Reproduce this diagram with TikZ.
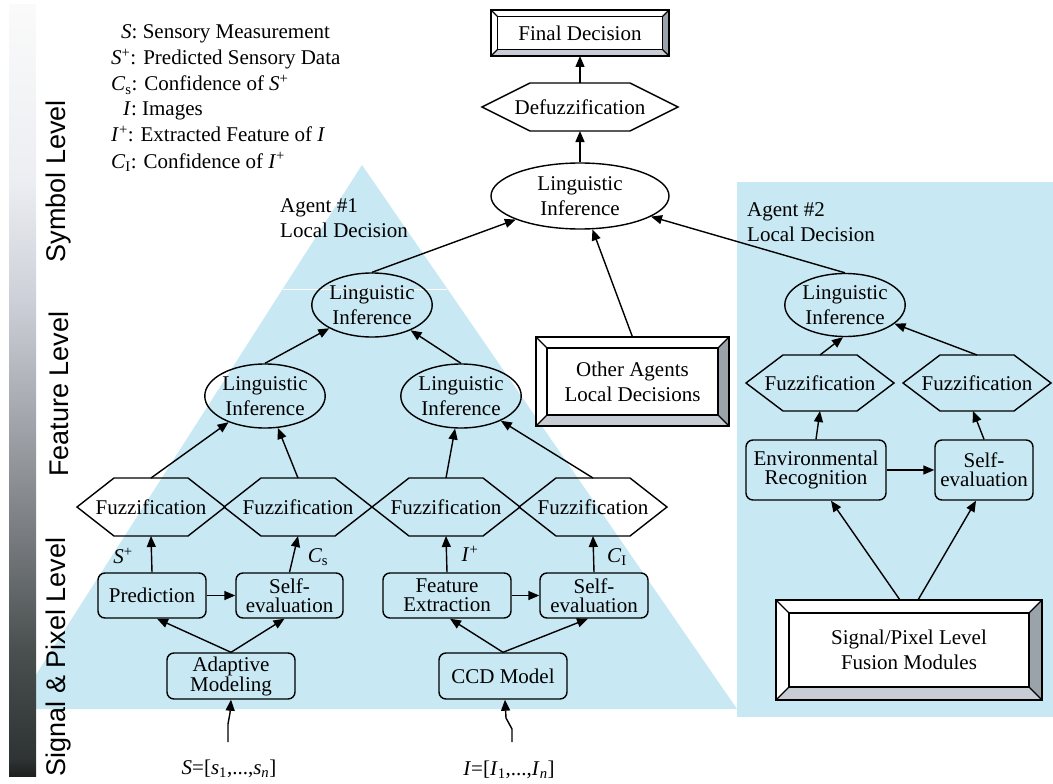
\documentclass[tikz,border=0pt]{standalone}
\usepackage{fontspec}
\setmainfont{Liberation Serif}
\setsansfont{Liberation Sans}
\usetikzlibrary{arrows.meta,calc,shapes.geometric}

\definecolor{agentblue}{RGB}{200,232,243}
\definecolor{bevelright}{RGB}{154,162,170}
\definecolor{bevelbottom}{RGB}{200,204,212}
\definecolor{barA}{RGB}{30,32,32}
\definecolor{barB}{RGB}{40,44,44}
\definecolor{barC}{RGB}{46,51,51}
\definecolor{barD}{RGB}{74,80,80}
\definecolor{barE}{RGB}{122,126,130}
\definecolor{barF}{RGB}{162,166,172}
\definecolor{barG}{RGB}{205,208,216}
\definecolor{barH}{RGB}{236,238,242}
\definecolor{barI}{RGB}{250,250,250}

\pgfdeclareverticalshading{levelbar}{100bp}{color(0bp)=(barA); color(25bp)=(barA);
  color(25.7bp)=(barB); color(26.1bp)=(barC); color(33.2bp)=(barD); color(41bp)=(barE);
  color(48.1bp)=(barF); color(55.9bp)=(barG); color(63.7bp)=(barH); color(75bp)=(barI);
  color(100bp)=(barI)}

% hexagon outline round a plain node, #2 = depth of the points
\newcommand{\hexoutline}[2]{%
  \draw[line width=1.4pt] (#1.west) -- ($(#1.north west)+(#2,0)$) -- ($(#1.north east)+(-#2,0)$)
    -- (#1.east) -- ($(#1.south east)+(-#2,0)$) -- ($(#1.south west)+(#2,0)$) -- cycle;}
% raised frame round a bevel box, #2 = frame width
\newcommand{\bevelframe}[2]{%
  \fill[bevelright] (#1.north east) -- (#1.south east) -- ($(#1.south east)+(-#2,-#2)$) -- ($(#1.north east)+(-#2,#2)$) -- cycle;
  \fill[bevelbottom] (#1.south west) -- (#1.south east) -- ($(#1.south east)+(-#2,-#2)$) -- ($(#1.south west)+(#2,-#2)$) -- cycle;
  \draw[line width=1.4pt] ($(#1.north west)+(#2,#2)$) rectangle ($(#1.south east)+(-#2,-#2)$);
  \draw[line width=1.2pt] (#1.north west) -- ++(#2,#2) (#1.north east) -- ++(-#2,#2)
    (#1.south west) -- ++(#2,-#2) (#1.south east) -- ++(-#2,-#2);
  \draw[line width=1.4pt] (#1.north west) rectangle (#1.south east);}

\tikzset{
  txt/.style={font=\fontsize{21}{25}\selectfont, inner sep=0pt, align=center},
  procbox/.style={draw, line width=1.4pt, rounded corners=7pt, inner sep=0pt, align=center,
    font=\fontsize{21}{19}\selectfont},
  linf/.style={ellipse, draw, line width=1.4pt, inner sep=0pt, align=center,
    font=\fontsize{21}{25}\selectfont},
  fuzz/.style={inner sep=0pt, outer sep=0pt, minimum width=148pt, minimum height=58pt,
    font=\fontsize{21}{25}\selectfont},
  bevelbox/.style={draw, fill=white, line width=1.4pt, inner sep=0pt, outer sep=0pt, align=center,
    font=\fontsize{21}{25}\selectfont},
  flow/.style={line width=1.4pt, -{Triangle[length=11pt,width=9pt]}},
  levellabel/.style={font=\sffamily\fontsize{27}{27}\selectfont, rotate=90, inner sep=0pt},
  legend/.style={anchor=base west, inner sep=0pt, font=\fontsize{21}{24}\selectfont},
  sig/.style={inner sep=0pt, font=\fontsize{21}{24}\selectfont},
}

\begin{document}
\begin{tikzpicture}[x=1pt,y=-1pt]
\useasboundingbox (0,0) rectangle (1053,784);

% agent areas and level bar
\fill[agentblue] (362,165) -- (737,709) -- (14,709) -- cycle;
\draw[white, line width=0.8pt] (283,289) -- (447,289);
\fill[agentblue] (737,182) rectangle (1053,717);
\shade[shading=levelbar] (9,5) rectangle (36,776);

\node[levellabel] (lvSym) at (59,181) {Symbol Level};
\node[levellabel] (lvFeat) at (59,394) {Feature Level};
\node[levellabel] (lvSig) at (59,657) {Signal \& Pixel Level};

% legend
\node[legend] (lgS) at (121,39) {\textit{S}: Sensory Measurement};
\node[legend] (lgSp) at (111,65) {\textit{S}\textsuperscript{+}: Predicted Sensory Data};
\node[legend] (lgCs) at (111,91) {\textit{C}\textsubscript{s}: Confidence of \textit{S}\textsuperscript{+}};
\node[legend] (lgI) at (123,116) {\textit{I}: Images};
\node[legend] (lgIp) at (111,142) {\textit{I}\textsuperscript{+}: Extracted Feature of \textit{I}};
\node[legend] (lgCi) at (111,168) {\textit{C}\textsubscript{I}: Confidence of \textit{I}\textsuperscript{+}};

% symbol level
\node[bevelbox, minimum width=178pt, minimum height=46pt] (final) at (580,33) {Final Decision};
\node[fuzz, minimum width=196pt, minimum height=48pt] (defuzz) at (580,107) {Defuzzification};
\node[linf, minimum width=178pt, minimum height=66pt] (topLI) at (580,196) {Linguistic\\Inference};
\node[bevelbox, minimum width=193pt, minimum height=89pt] (others) at (632.5,381.5) {Other Agents\\Local Decisions};

\node[txt, anchor=west, align=left] (aoneLbl) at (280,218) {Agent \#1\\Local Decision};
\node[txt, anchor=west, align=left] (atwoLbl) at (747,222) {Agent \#2\\Local Decision};

% agent #1
\node[linf, minimum width=116pt, minimum height=64pt] (aoneLI) at (372,305) {Linguistic\\Inference};
\node[linf, minimum width=118pt, minimum height=64pt] (midL) at (265,396) {Linguistic\\Inference};
\node[linf, minimum width=118pt, minimum height=64pt] (midR) at (461,396) {Linguistic\\Inference};

\node[fuzz] (fzA) at (151,507) {Fuzzification};
\node[fuzz] (fzB) at (298,507) {Fuzzification};
\node[fuzz] (fzC) at (446,507) {Fuzzification};
\node[fuzz] (fzD) at (593,507) {Fuzzification};

\node[procbox, minimum width=108pt, minimum height=45pt] (pred) at (152,595.5) {Prediction};
\node[procbox, minimum width=107pt, minimum height=45pt] (selfS) at (289.5,595.5) {Self-\\evaluation};
\node[procbox, minimum width=128pt, minimum height=45pt] (featx) at (447,595.5) {Feature\\Extraction};
\node[procbox, minimum width=108pt, minimum height=45pt] (selfI) at (594,595.5) {Self-\\evaluation};
\node[procbox, minimum width=128pt, minimum height=46pt] (adapt) at (231,676) {Adaptive\\Modeling};
\node[procbox, minimum width=128pt, minimum height=46pt] (ccd) at (503,676) {CCD Model};

\coordinate (sIn) at (228,742);
\coordinate (iIn) at (512,742);
\node[sig] (sVec) at (229,769) {\textit{S}=[\textit{s}\textsubscript{1},...,\textit{s}\textsubscript{\textit{n}}]};
\node[sig] (iVec) at (509,770) {\textit{I}=[\textit{I}\textsubscript{1},...,\textit{I}\textsubscript{\textit{n}}]};

\node[sig] (lbSp) at (123,556) {\textit{S}\textsuperscript{+}};
\node[sig] (lbCs) at (318,557) {\textit{C}\textsubscript{s}};
\node[sig] (lbIp) at (470,554) {\textit{I}\textsuperscript{+}};
\node[sig] (lbCi) at (617,557) {\textit{C}\textsubscript{I}};

% agent #2
\node[linf, minimum width=118pt, minimum height=63pt] (atwoLI) at (845,305) {Linguistic\\Inference};
\node[fuzz, minimum height=56pt] (fzE) at (820,383) {Fuzzification};
\node[fuzz, minimum height=56pt] (fzF) at (977,383) {Fuzzification};
\node[procbox, minimum width=140pt, minimum height=60pt] (env) at (816,470) {Environmental\\Recognition};
\node[procbox, minimum width=98pt, minimum height=60pt] (selfA) at (984,470) {Self-\\evaluation};
\node[bevelbox, minimum width=266pt, minimum height=100pt] (fusion) at (909,650) {Signal/Pixel Level\\Fusion Modules};

\foreach \n/\o in {defuzz/48, fzA/37, fzB/37, fzC/37, fzD/37, fzE/37, fzF/37} {\hexoutline{\n}{\o}}
\bevelframe{final}{6.5}
\bevelframe{others}{11}
\bevelframe{fusion}{13}

% connectors
\draw[flow] (defuzz.north) -- (final.south);
\draw[flow] (topLI.north) -- (defuzz.south);
\draw[flow] (aoneLI.north) -- (topLI);
\draw[flow] (others.north) -- (topLI);
\draw[flow] (atwoLI.north) -- (topLI);
\draw[flow] (midL.north) -- (aoneLI);
\draw[flow] (midR.north) -- (aoneLI);
\draw[flow] (fzA.north) -- (midL);
\draw[flow] (fzB.north) -- (midL);
\draw[flow] (fzC.north) -- (midR);
\draw[flow] (fzD.north) -- (midR);
\draw[flow] (pred.north) -- (fzA.south);
\draw[flow] (selfS.north) -- (fzB.south);
\draw[flow] (featx.north) -- (fzC.south);
\draw[flow] (selfI.north) -- (fzD.south);
\draw[flow] (pred) -- (selfS);
\draw[flow] (featx) -- (selfI);
\draw[flow] (adapt.north) -- ([xshift=5pt]pred.south);
\draw[flow] (adapt.north) -- ([xshift=-5pt]selfS.south);
\draw[flow] (ccd.north) -- ([xshift=3pt]featx.south);
\draw[flow] (ccd.north) -- ([xshift=-6pt]selfI.south);
\draw[flow] (sIn) -- (228,724) -- (230,713) -- (adapt.south);
\draw[flow] (iIn) -- (512,729) -- (506,718) -- ([xshift=2pt]ccd.south);

\draw[flow] (fzE.north) -- ([xshift=-2pt]atwoLI.south);
\draw[flow] (fzF.north) -- (atwoLI);
\draw[flow] (env.north) -- (fzE.south);
\draw[flow] (selfA.north) -- ([xshift=-4pt]fzF.south);
\draw[flow] (env) -- (selfA);
\draw[flow] ([xshift=-9pt]fusion.north) -- ([xshift=15pt]env.south);
\draw[flow] ([xshift=9pt]fusion.north) -- ([xshift=-8pt]selfA.south);

\end{tikzpicture}
\end{document}
